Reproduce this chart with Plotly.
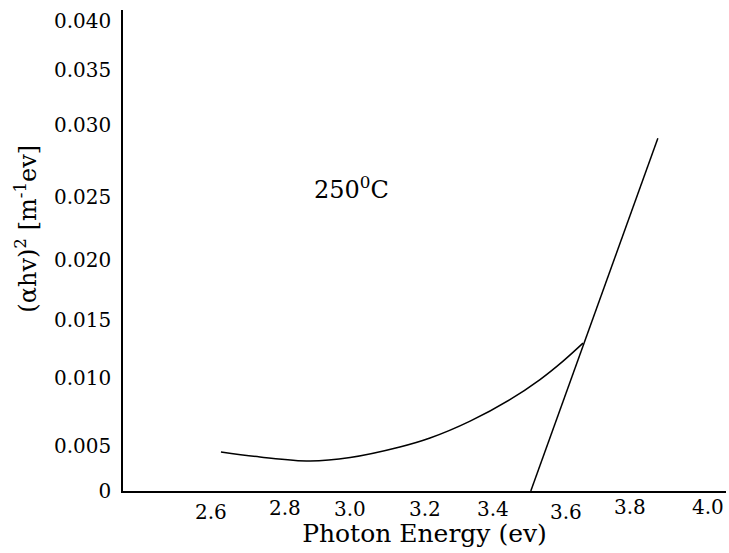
import plotly.graph_objects as go

# Absorption curve (photon energy eV, (alpha h nu)^2)
curve_x = [2.628, 2.738, 2.879, 2.992, 3.132, 3.217, 3.330, 3.442, 3.527, 3.592, 3.648]
curve_y = [0.00330, 0.00288, 0.00254, 0.00283, 0.00372, 0.00448, 0.00591, 0.00773, 0.00943, 0.01099, 0.01251]

# Tauc extrapolation line
fit_x = [3.501, 3.859]
fit_y = [0.0, 0.02985]

# Axis tick labels (as printed in the figure)
x_tick_text = ["2.6", "2.8", "3.0", "3.2", "3.4", "3.6", "3.8", "4.0"]
x_tick_pos = [2.600, 2.808, 2.992, 3.203, 3.394, 3.600, 3.780, 4.000]
x_tick_drop = [21, 17, 18, 18, 18, 21, 16, 16]

y_tick_text = ["0", "0.005", "0.010", "0.015", "0.020", "0.025", "0.030", "0.035", "0.040"]
y_tick_pos = [0.0, 0.00385, 0.00960, 0.01446, 0.01953, 0.02490, 0.03095, 0.03565, 0.03979]

label_text = "250<sup>0</sup>C"
label_x, label_y = 2.997, 0.0256

y_title = "(αhv)<sup>2</sup> [m<sup>-1</sup>ev]"
y_title_pos = 0.0222
x_title = "Photon Energy (ev)"

FONT = "DejaVu Serif"

fig = go.Figure()
fig.add_trace(go.Scatter(x=curve_x, y=curve_y, mode="lines",
                         line=dict(color="black", width=1.5, shape="spline", smoothing=1.0),
                         showlegend=False, hoverinfo="skip"))
fig.add_trace(go.Scatter(x=fit_x, y=fit_y, mode="lines",
                         line=dict(color="black", width=1.5),
                         showlegend=False, hoverinfo="skip"))

for t, p, d in zip(x_tick_text, x_tick_pos, x_tick_drop):
    fig.add_annotation(x=p, y=0, xref="x", yref="y", text=t, showarrow=False,
                       xanchor="center", yanchor="middle", yshift=-d,
                       font=dict(family=FONT, size=20, color="black"))

fig.add_annotation(x=label_x, y=label_y, xref="x", yref="y", text=label_text,
                   showarrow=False, xanchor="center", yanchor="middle",
                   font=dict(family=FONT, size=24, color="black"))

fig.add_annotation(x=0, y=y_title_pos, xref="paper", yref="y", text=y_title,
                   showarrow=False, textangle=-90, xanchor="center", yanchor="middle",
                   xshift=-97, font=dict(family=FONT, size=24, color="black"))

fig.update_layout(
    width=729, height=553,
    margin=dict(l=123, r=3, t=10, b=62),
    paper_bgcolor="white", plot_bgcolor="white",
    font=dict(family=FONT, color="black"),
    xaxis=dict(range=[2.352, 4.051], showgrid=False, zeroline=False,
               showline=True, linecolor="black", linewidth=1.5,
               showticklabels=False, ticks="",
               title=dict(text=x_title, font=dict(family=FONT, size=25),
                          standoff=33)),
    yaxis=dict(range=[0, 0.0407], showgrid=False, zeroline=False,
               showline=True, linecolor="black", linewidth=1.5,
               tickmode="array", tickvals=y_tick_pos, ticktext=y_tick_text,
               ticks="", ticklabelstandoff=6,
               tickfont=dict(family=FONT, size=20)),
)

fig.write_html("out.html")
